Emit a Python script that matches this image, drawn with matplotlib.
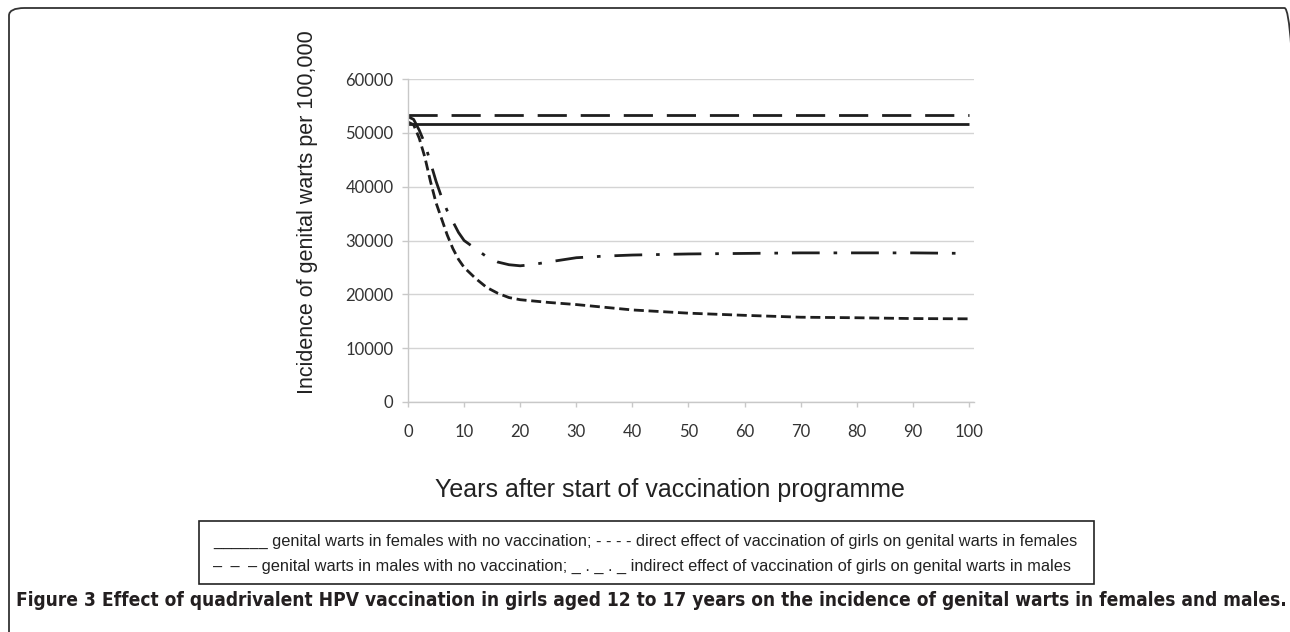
import matplotlib
matplotlib.use("Agg")
import matplotlib.pyplot as plt
from matplotlib.patches import FancyBboxPatch, Rectangle

# ---------------- data ----------------
years_flat = [0, 100]
females_no_vacc = [51700, 51700]
males_no_vacc = [53300, 53300]

years_direct = [0, 1, 2, 3, 4, 5, 6, 7, 8, 9, 10, 12, 14, 16, 18, 20, 25, 30, 35, 40,
                50, 60, 70, 80, 90, 100]
females_direct = [52000, 51500, 49000, 45500, 41000, 37000, 34000, 31000, 28500, 26500,
                  25000, 23000, 21300, 20200, 19400, 19000, 18500, 18100, 17600, 17100,
                  16500, 16100, 15750, 15650, 15500, 15450]

years_indirect = [0, 1, 2, 3, 4, 5, 6, 7, 8, 9, 10, 12, 14, 16, 18, 20, 22, 25, 30, 35,
                  40, 50, 60, 70, 80, 90, 100]
males_indirect = [53000, 52500, 50500, 48000, 44500, 41000, 38000, 35500, 33500, 31500,
                  30000, 28500, 27000, 26000, 25500, 25300, 25500, 26000, 26800, 27100,
                  27300, 27500, 27600, 27700, 27700, 27700, 27600]

x_ticks = list(range(0, 101, 10))
y_ticks = list(range(0, 60001, 10000))

ylabel = "Incidence of genital warts per 100,000"
xlabel = "Years after start of vaccination programme"
legend_line1 = ("______ genital warts in females with no vaccination; - - - - direct effect "
                "of vaccination of girls on genital warts in females")
legend_line2 = ("\u2013\u2002\u2013\u2002\u2013 genital warts in males with no vaccination; _ . _ . _ "
                "indirect effect of vaccination of girls on genital warts in males")
caption = ("Figure 3 Effect of quadrivalent HPV vaccination in girls aged 12 to 17 years "
           "on the incidence of genital warts in females and males.")

# ---------------- figure ----------------
W, H = 1290, 632
fig = plt.figure(figsize=(W / 100, H / 100), dpi=100)
fig.patch.set_facecolor("white")

def fx(px):
    return px / W

def fy(py):
    return 1 - py / H

ax = fig.add_axes([fx(408), fy(402), fx(974) - fx(408), fy(79) - fy(402)])
line_col = "#1e1e1e"
lw = 2.0

ax.plot(years_flat, females_no_vacc, color=line_col, lw=lw, solid_capstyle="butt")
l2, = ax.plot(years_flat, males_no_vacc, color=line_col, lw=lw)
l2.set_dashes([10.5, 5])
l3, = ax.plot(years_direct, females_direct, color=line_col, lw=lw)
l3.set_dashes([3.6, 1.7])
l4, = ax.plot(years_indirect, males_indirect, color=line_col, lw=lw)
l4.set_dashes([10, 5, 1.3, 5])

ax.set_xlim(0, 100.9)
ax.set_ylim(0, 60000)
ax.set_xticks(x_ticks)
ax.set_yticks(y_ticks)
ax.set_xticklabels([str(v) for v in x_ticks])
ax.set_yticklabels([str(v) for v in y_ticks])

grid_col = "#d4d4d4"
ax.grid(axis="y", color=grid_col, lw=1.0)
ax.set_axisbelow(True)
for s in ["top", "right"]:
    ax.spines[s].set_visible(False)
ax.spines["left"].set_color("#c8c8c8")
ax.spines["bottom"].set_color("#c8c8c8")
ax.spines["left"].set_linewidth(1.0)
ax.spines["bottom"].set_linewidth(1.0)
ax.tick_params(axis="x", direction="out", length=3.5, width=1, color="#c8c8c8",
               pad=12, labelsize=12, labelcolor="#333333")
ax.tick_params(axis="y", direction="out", length=4.5, width=1, color="#c8c8c8",
               pad=6, labelsize=12, labelcolor="#333333")
for lab in ax.get_xticklabels() + ax.get_yticklabels():
    lab.set_family("Lato")

fig.text(fx(307), fy(212), ylabel, rotation=90, ha="center", va="center",
         fontsize=15.5, family="Liberation Sans", color="#222222")
fig.text(fx(670), fy(490), xlabel, ha="center", va="center",
         fontsize=18, family="Liberation Sans", color="#222222")

# legend box
fig.add_artist(Rectangle((fx(199), fy(584)), fx(1094) - fx(199), fy(521) - fy(584),
                         transform=fig.transFigure, fill=False, edgecolor="#222222", lw=1.2))
t1 = fig.text(fx(213), fy(541), legend_line1, ha="left", va="center", fontsize=10,
              family="Liberation Sans", color="#222222")
t2 = fig.text(fx(213), fy(566), legend_line2, ha="left", va="center", fontsize=10,
              family="Liberation Sans", color="#222222")

# caption
tc = fig.text(fx(16), fy(601), caption, ha="left", va="center", fontsize=13,
              family="DejaVu Sans", stretch="condensed", weight="bold", color="#231f20")

# outer rounded frame
fig.add_artist(FancyBboxPatch((fx(9), fy(645)), fx(1300) - fx(9), fy(8) - fy(645),
                              boxstyle="round,pad=0,rounding_size=0.012",
                              transform=fig.transFigure, fill=False,
                              edgecolor="#333333", lw=1.3, clip_on=False))

# fit text widths to the reference
fig.canvas.draw()
r = fig.canvas.get_renderer()
for t, target in [(t1, 867), (tc, 1267)]:
    w = t.get_window_extent(r).width
    t.set_fontsize(t.get_fontsize() * target / w)
t2.set_fontsize(t1.get_fontsize())

fig.savefig("out.png", dpi=100, facecolor="white")
